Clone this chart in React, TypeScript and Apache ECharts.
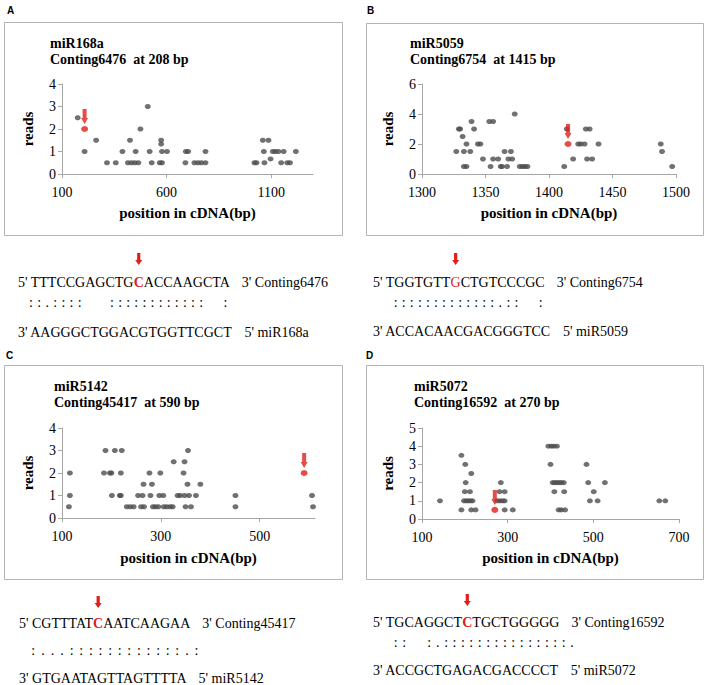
import React, { useEffect, useRef } from 'react';
import * as echarts from 'echarts';

const SERIF = "'Liberation Serif'";
const SANS = "'Liberation Sans'";
const RED = '#e0201b';
const GRAY = '#4d4d4d';
const AXIS = '#a6a6a6';

// ---------- Panel A : miR168a / Conting6476 ----------
const aPos = [175, 208, 263, 315, 357, 389, 425, 415, 432, 448, 465, 452, 475, 510, 519, 529, 574, 574, 567, 578, 578, 602, 692, 703, 690, 733, 750, 766, 786, 786, 1020, 1030, 1060, 1087, 1065, 1068, 1097, 1108, 1120, 1135, 1160, 1148, 1177, 1190, 1218];
const aReads = [2.5, 1, 1.5, 0.5, 0.5, 1, 1.5, 0.5, 0.5, 0.5, 0.5, 1, 2, 3, 1, 0.5, 1.5, 1.33, 0.5, 0.5, 1, 1, 1, 1, 0.5, 0.5, 0.5, 0.5, 0.5, 1, 0.5, 0.5, 1.5, 1.5, 1, 0.5, 0.67, 1, 1, 1, 1, 0.5, 0.5, 0.5, 1];
const aSite = [208, 2];
const aXTicks = [100, 600, 1100];

// ---------- Panel B : miR5059 / Conting6754 ----------
const bPos = [1327, 1329, 1330, 1332, 1333, 1333, 1335, 1335, 1338, 1339, 1341, 1344, 1346, 1348, 1353, 1356, 1354, 1356, 1360, 1362, 1363, 1365, 1367, 1368, 1371, 1370, 1373, 1377, 1379, 1381, 1383, 1412, 1414, 1419, 1423, 1425, 1428, 1429, 1432, 1430, 1434, 1439, 1488, 1489, 1497];
const bReads = [1.5, 3, 3, 2.5, 1.5, 0.5, 0.5, 2, 1.5, 3.5, 3, 2, 2, 1, 3.5, 3.5, 0.5, 1, 1, 0.5, 0.5, 1.5, 0.5, 1, 1, 1.5, 4, 0.5, 0.5, 0.5, 0.5, 0.5, 3, 1, 2, 2, 2, 3, 3, 1, 1, 2, 2, 1.5, 0.5];
const bSite = [1415, 2];

// ---------- Panel C : miR5142 / Conting45417 ----------
const cPos = [114, 116, 116, 185, 188, 197, 200, 201, 207, 217, 219, 219, 221, 231, 238, 245, 254, 263, 260, 266, 265, 277, 279, 282, 284, 289, 295, 299, 297, 305, 306, 312, 319, 324, 326, 334, 339, 346, 348, 348, 357, 350, 361, 354, 355, 371, 380, 451, 451, 606, 608];
const cReads = [0.5, 1, 2, 2, 3, 2, 2, 1, 3, 1, 1, 2, 3, 0.5, 0.5, 0.5, 1, 1, 0.5, 0.5, 1.5, 2, 1, 1.5, 0.5, 0.5, 0.5, 2, 1, 1, 0.5, 0.5, 0.5, 0.5, 2.5, 1, 1, 2, 2.5, 1, 1, 0.5, 0.5, 1.5, 3, 1, 1.5, 1, 0.5, 1, 0.5];
const cSite = [590, 2];
const cXTicks = [100, 300, 500];

// ---------- Panel D : miR5072 / Conting16592 ----------
const dPos = [142, 192, 201, 202, 200, 212, 198, 203, 208, 213, 218, 215, 192, 215, 225, 284, 281, 293, 276, 282, 288, 293, 293, 312, 395, 402, 408, 415, 400, 405, 410, 415, 420, 425, 431, 409, 432, 419, 425, 434, 484, 488, 501, 492, 510, 527, 654, 668];
const dReads = [1, 3.5, 3, 2, 1.5, 1.5, 1, 1, 1, 1, 1, 2.5, 0.5, 0.5, 0.5, 2, 1.5, 1.5, 1, 1, 1, 1, 0.5, 0.5, 4, 4, 4, 4, 3, 2, 2, 2, 2, 2, 2, 1.5, 1.5, 0.5, 0.5, 0.5, 3, 2, 1.5, 1, 1, 2, 1, 1];
const dSite = [270, 0.5];
const dXTicks = [100, 300, 500, 700];

// ---------- titles & sequences ----------
const titles = [
  ['miR168a', 'Conting6476 \u00a0at 208 bp'],
  ['miR5059', 'Conting6754 \u00a0at 1415 bp'],
  ['miR5142', 'Conting45417 \u00a0at 590 bp'],
  ['miR5072', 'Conting16592 \u00a0at 270 bp'],
];
const panelLetters = ['A', 'B', 'C', 'D'];
const targetSeqs = [
  ["5' TTTCCGAGCTG", 'C', 'ACCAAGCTA', "3' Conting6476"],
  ["5' TGGTGTT", 'G', 'CTGTCCCGC', "3' Conting6754"],
  ["5' CGTTTAT", 'C', 'AATCAAGAA', "3' Conting45417"],
  ["5' TGCAGGCT", 'C', 'TGCTGGGGG', "3' Conting16592"],
];
const mirSeqs = [
  ["3' AAGGGCTGGACGTGGTTCGCT", "5' miR168a"],
  ["3' ACCACAACGACGGGTCC", "5' miR5059"],
  ["3' GTGAATAGTTAGTTTTA", "5' miR5142"],
  ["3' ACCGCTGAGACGACCCCT", "5' miR5072"],
];
const matchLines = [
  '::.::::   ::::::::::::  :',
  ':::::::::::::.::  :',
  ':...::::::::::::.:',
  '::  :.:::::::::::::::.',
];

// ---------- layout (positions only) ----------
const grids = [
  { left: 62, top: 84, width: 251, height: 90 },
  { left: 422, top: 84, width: 254, height: 90 },
  { left: 62, top: 428, width: 253, height: 90 },
  { left: 422, top: 428, width: 257, height: 91 },
];
const boxes = [
  [4, 22, 338, 213],
  [366, 23, 337, 212],
  [4, 365, 338, 214],
  [366, 365, 337, 214],
];
const letterPos = [[7, 10], [367, 10], [6, 355], [366, 355]];
const titlePos = [[50, 43, 59], [410, 43, 59], [54, 386, 402], [414, 386, 402]];
const seqLayout = [
  { x: 18, y1: 282, yc: 302, y3: 332, cx: 31, pitch: 8.1, ay: 253, bold: true },
  { x: 373, y1: 282, yc: 302, y3: 331, cx: 395.7, pitch: 8.05, ay: 253, bold: false },
  { x: 19, y1: 623, yc: 650, y3: 678, cx: 33.3, pitch: 9.6, ay: 596, bold: true },
  { x: 373, y1: 622, yc: 642, y3: 670, cx: 395.7, pitch: 8.4, ay: 594, bold: true },
];

const ARROW = 'path://M1.5,0 L5.5,0 L5.5,9 L7,9 L3.5,15 L0,9 L1.5,9 Z';
const SEQ_SIZE = 14;

function txt(x: number, y: number, text: string, font: string, fill = '#000', align = 'left') {
  return {
    type: 'text', x, y, silent: true,
    style: { text, font, fill, align, verticalAlign: 'middle', textAlign: align, textVerticalAlign: 'middle' },
  };
}

export default function App() {
  const ref = useRef<HTMLDivElement>(null);
  useEffect(() => {
    const chart = echarts.init(ref.current!, null, { renderer: 'svg' });
    const ctx = document.createElement('canvas').getContext('2d')!;
    const tw = (s: string, bold: boolean) => {
      ctx.font = `${bold ? 'bold ' : ''}${SEQ_SIZE}px ${SERIF}`;
      return ctx.measureText(s).width;
    };

    const panels = [
      { pos: aPos, reads: aReads, site: aSite, xMin: 100, xMax: 1300, xTicks: aXTicks, yMax: 4, yInt: 1 },
      { pos: bPos, reads: bReads, site: bSite, xMin: 1300, xMax: 1500, xInt: 50, yMax: 6, yInt: 2 },
      { pos: cPos, reads: cReads, site: cSite, xMin: 100, xMax: 612, xTicks: cXTicks, yMax: 4, yInt: 1 },
      { pos: dPos, reads: dReads, site: dSite, xMin: 100, xMax: 700, xTicks: dXTicks, yMax: 5, yInt: 1 },
    ];
    const xNameGaps = [31, 31, 32, 31];
    const fmt = (v: number) => String(v);

    const labelStyle = { color: '#000', fontFamily: SERIF, fontSize: 14, formatter: fmt };
    const nameStyle = { color: '#000', fontFamily: SERIF, fontSize: 15, fontWeight: 'bold' as const };

    const xAxis = panels.map((p: any, i) => ({
      type: 'value', gridIndex: i, min: p.xMin, max: p.xMax,
      ...(p.xInt ? { interval: p.xInt } : {}),
      name: 'position in cDNA(bp)', nameLocation: 'middle', nameGap: xNameGaps[i], nameTextStyle: nameStyle,
      axisLine: { lineStyle: { color: AXIS } },
      axisTick: p.xTicks ? { length: 4, lineStyle: { color: AXIS }, customValues: p.xTicks } : { length: 4, lineStyle: { color: AXIS } },
      axisLabel: p.xTicks ? { ...labelStyle, margin: 11, customValues: p.xTicks } : { ...labelStyle, margin: 11 },
      splitLine: { show: false },
    }));
    const yAxis = panels.map((p: any, i) => ({
      type: 'value', gridIndex: i, min: 0, max: p.yMax, interval: p.yInt,
      name: 'reads', nameLocation: 'middle', nameGap: 27, nameTextStyle: nameStyle,
      axisLine: { show: true, lineStyle: { color: AXIS } },
      axisTick: { show: true, length: 4, lineStyle: { color: AXIS } },
      axisLabel: { ...labelStyle, margin: 6 },
      splitLine: { show: false },
    }));

    const series: any[] = [];
    panels.forEach((p, i) => {
      series.push({
        type: 'scatter', xAxisIndex: i, yAxisIndex: i, silent: true,
        data: p.pos.map((x, k) => [x, p.reads[k]]),
        symbol: 'circle', symbolSize: [6, 5], itemStyle: { color: GRAY },
      });
      series.push({
        type: 'scatter', xAxisIndex: i, yAxisIndex: i, silent: true, z: 3,
        data: [p.site], symbol: 'circle', symbolSize: [7, 6], itemStyle: { color: RED },
      });
      series.push({
        type: 'scatter', xAxisIndex: i, yAxisIndex: i, silent: true, z: 4,
        data: [p.site], symbol: ARROW, symbolSize: [7, 15], symbolOffset: [0, -12.5], itemStyle: { color: RED },
      });
    });

    const graphic: any[] = [];
    boxes.forEach(([x, y, w, h]) => {
      graphic.push({ type: 'rect', silent: true, shape: { x: x + 0.5, y: y + 0.5, width: w, height: h }, style: { fill: 'none', stroke: '#b3b3b3', lineWidth: 1 } });
    });
    panelLetters.forEach((l, i) => {
      graphic.push(txt(letterPos[i][0], letterPos[i][1], l, `bold 10px ${SANS}`));
    });
    titles.forEach((t, i) => {
      const [x, y1, y2] = titlePos[i];
      graphic.push(txt(x, y1, t[0], `bold 14px ${SERIF}`));
      graphic.push(txt(x, y2, t[1], `bold 14px ${SERIF}`));
    });
    targetSeqs.forEach((s, i) => {
      const L = seqLayout[i];
      const f = `${SEQ_SIZE}px ${SERIF}`;
      const fb = `${L.bold ? 'bold ' : ''}${SEQ_SIZE}px ${SERIF}`;
      const w0 = tw(s[0], false);
      const w1 = tw(s[1], L.bold);
      const w2 = tw(s[2], false);
      graphic.push(txt(L.x, L.y1, s[0], f));
      graphic.push(txt(L.x + w0, L.y1, s[1], fb, RED));
      graphic.push(txt(L.x + w0 + w1, L.y1, s[2], f));
      graphic.push(txt(L.x + w0 + w1 + w2 + 12, L.y1, s[3], f));
      const cx = L.x + w0 + w1 / 2;
      const t = L.ay;
      graphic.push({
        type: 'polygon', silent: true,
        shape: { points: [[cx - 1.6, t], [cx + 1.6, t], [cx + 1.6, t + 7], [cx + 3.5, t + 7], [cx, t + 12], [cx - 3.5, t + 7], [cx - 1.6, t + 7]] },
        style: { fill: RED },
      });
      const m = mirSeqs[i];
      const wm = tw(m[0], false);
      graphic.push(txt(L.x, L.y3, m[0], f));
      graphic.push(txt(L.x + wm + 12, L.y3, m[1], f));
      matchLines[i].split('').forEach((ch, k) => {
        if (ch === ' ') return;
        graphic.push(txt(L.cx + k * L.pitch, L.yc, ch, f, '#000', 'center'));
      });
    });

    chart.setOption({
      animation: false,
      grid: grids.map((g) => ({ ...g, containLabel: false })),
      xAxis, yAxis, series, graphic,
    });
    return () => chart.dispose();
  }, []);
  return <div ref={ref} style={{ position: 'absolute', left: 0, top: 0, width: 708, height: 685 }} />;
}
